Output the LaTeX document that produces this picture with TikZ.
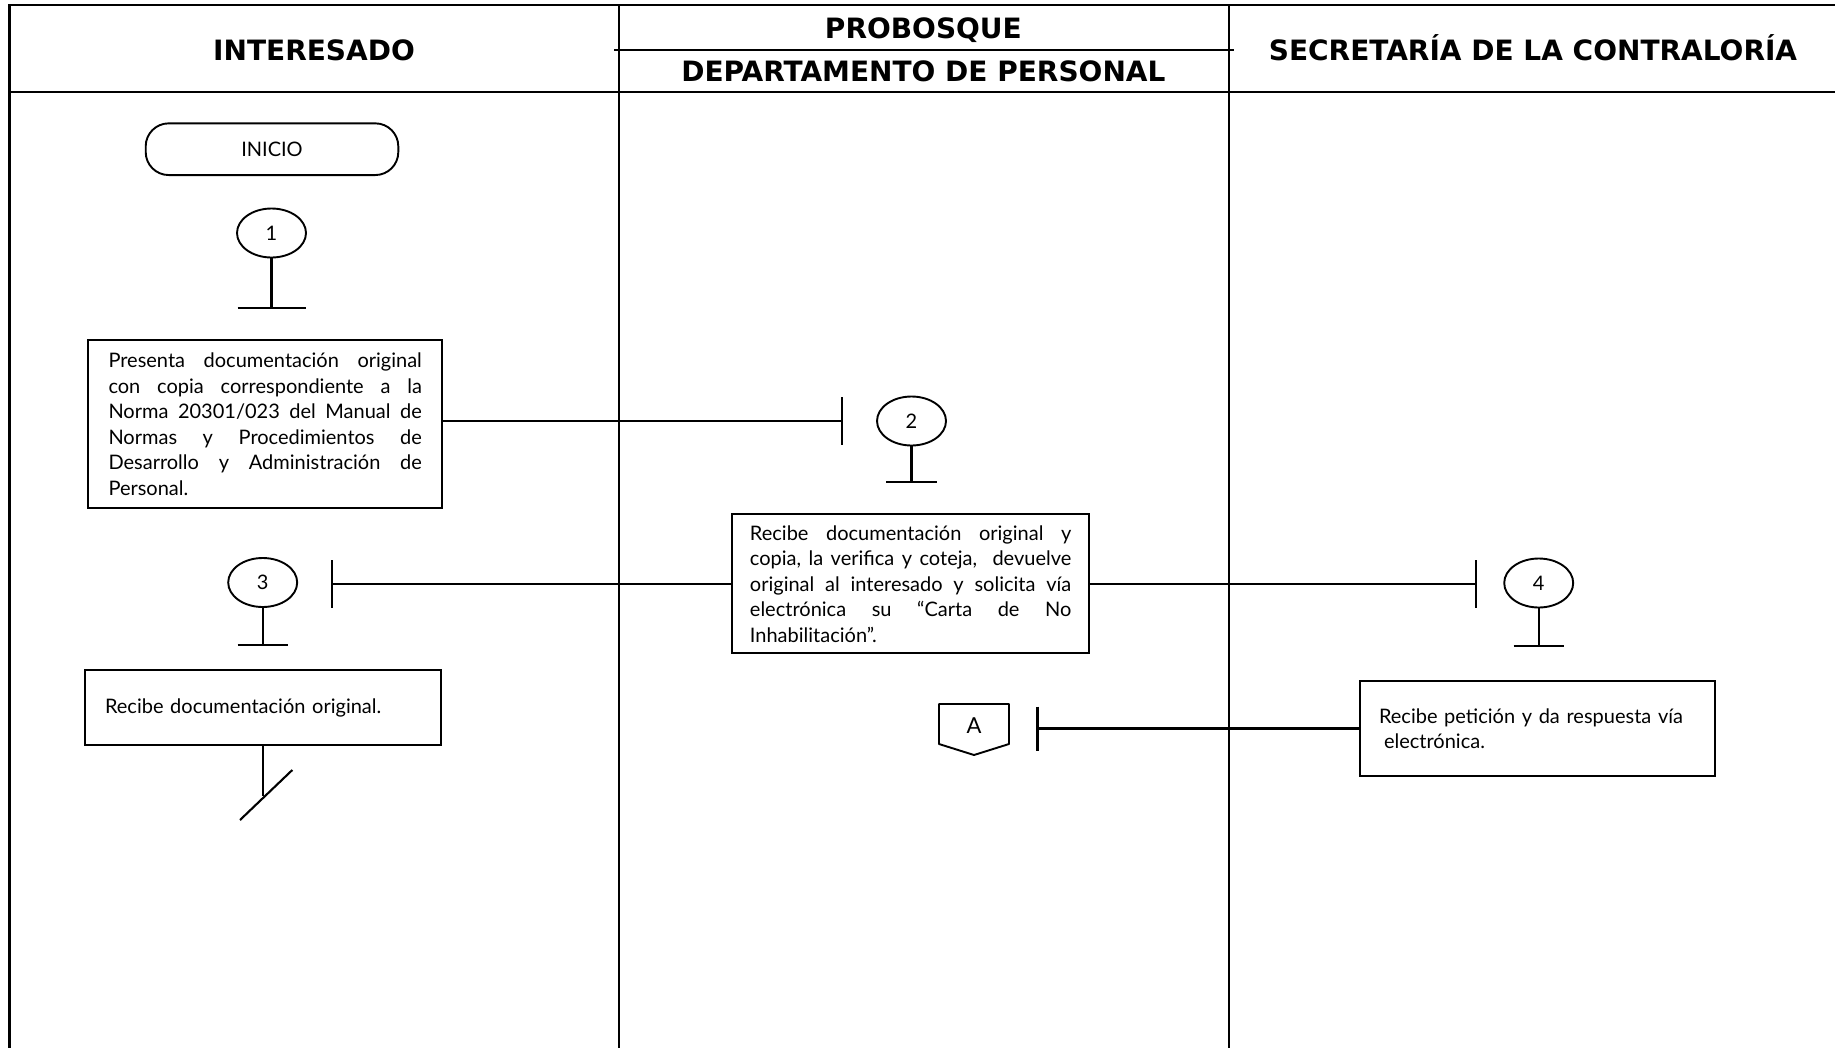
\documentclass[tikz,border=0pt]{standalone}
\usepackage{fontspec}
\setmainfont{Lato}
\newfontfamily\hdrfont{DejaVu Sans}
\usetikzlibrary{shapes.geometric}
\newcommand{\jl}[2]{\leavevmode\hbox to #1{#2}}
\newcommand{\bodyfont}{\fontsize{20}{25.5}\selectfont}
\tikzset{
  lane/.style={line width=2.3pt},
  conn/.style={line width=2.1pt},
  hdr/.style={font=\hdrfont\bfseries\fontsize{28}{30}\selectfont, inner sep=0pt, text height=20pt, text depth=0pt},
  procbox/.style={draw, line width=2.1pt, inner ysep=0pt, align=left, font=\bodyfont},
  conncirc/.style={draw, ellipse, line width=1.9pt, minimum width=69pt, minimum height=49pt, inner sep=0pt, font=\bodyfont},
  startbox/.style={draw, line width=1.9pt, rounded corners=23pt, minimum width=252.6pt, minimum height=51.7pt, inner sep=0pt, font=\bodyfont},
}
\begin{document}
\begin{tikzpicture}[x=1pt,y=-1pt]
\useasboundingbox (0,0) rectangle (1835,1047);
% frame and lanes
\draw[lane] (9.5,1050) -- (9.5,5) -- (1840,5);
\draw[lane] (9.5,92) -- (1840,92);
\draw[lane] (619.3,5) -- (619.3,1050);
\draw[lane] (1229,5) -- (1229,1050);
\draw[lane] (614,50) -- (1234,50);
% headers
\node[hdr] (hInt) at (314,50.3) {INTERESADO};
\node[hdr] (hProb) at (923.4,28) {PROBOSQUE};
\node[hdr] (hDep) at (923.4,71.4) {DEPARTAMENTO DE PERSONAL};
\node[hdr] (hSec) at (1533,50.3) {SECRETARÍA DE LA CONTRALORÍA};
% INICIO
\node[startbox] (inicio) at (272,149.2) {INICIO};
% connector 1
\node[conncirc] (e1) at (271.5,233) {1};
\coordinate (b1) at (271.5,308.3);
\draw[conn] (e1.south) -- (b1);
\draw[conn] ([xshift=-34pt]b1) -- ([xshift=34pt]b1);
% box 1
\node[procbox, text width=313.4pt, inner xsep=20.45pt, minimum height=168pt] (box1) at (265.2,424)
 {\jl{313.4pt}{Presenta\hfill documentación\hfill original}\\
  \jl{313.4pt}{con\hfill copia\hfill correspondiente\hfill a\hfill la}\\
  \jl{313.4pt}{Norma\hfill 20301/023\hfill del\hfill Manual\hfill de}\\
  \jl{313.4pt}{Normas\hfill y\hfill Procedimientos\hfill de}\\
  \jl{313.4pt}{Desarrollo\hfill y\hfill Administración\hfill de}\\
  Personal.};
\coordinate (t2) at (841.7,421);
\draw[conn] (box1.east |- t2) -- (t2);
\draw[conn] ([yshift=24pt]t2) -- ([yshift=-24pt]t2);
% connector 2
\node[conncirc] (e2) at (911.5,421) {2};
\coordinate (b2) at (911.5,481.7);
\draw[conn] (e2.south) -- (b2);
\draw[conn] ([xshift=-25.5pt]b2) -- ([xshift=25.5pt]b2);
% box 2
\node[procbox, text width=321.4pt, inner xsep=17.65pt, minimum height=139pt] (box2) at (910.65,583.8)
 {\jl{321.4pt}{Recibe\hfill documentación\hfill original\hfill y}\\
  \jl{321.4pt}{copia,\hfill la\hfill verifica\hfill y\hfill coteja,\hspace{8pt}\hfill devuelve}\\
  \jl{321.4pt}{original\hfill al\hfill interesado\hfill y\hfill solicita\hfill vía}\\
  \jl{321.4pt}{electrónica\hfill su\hfill “Carta\hfill de\hfill No}\\
  Inhabilitación”.};
% to 3
\coordinate (t3) at (331.7,584);
\draw[conn] (box2.west |- t3) -- (t3);
\draw[conn] ([yshift=24pt]t3) -- ([yshift=-24pt]t3);
\node[conncirc] (e3) at (262.7,582.5) {3};
\coordinate (b3) at (262.7,645);
\draw[conn] (e3.south) -- (b3);
\draw[conn] ([xshift=-25pt]b3) -- ([xshift=25pt]b3);
% to 4
\coordinate (t4) at (1476,584);
\draw[conn] (box2.east |- t4) -- (t4);
\draw[conn] ([yshift=24pt]t4) -- ([yshift=-24pt]t4);
\node[conncirc] (e4) at (1538.7,583) {4};
\coordinate (b4) at (1538.7,646);
\draw[conn] (e4.south) -- (b4);
\draw[conn] ([xshift=-25pt]b4) -- ([xshift=25pt]b4);
% box 3
\node[procbox, text width=315.7pt, inner xsep=20pt, minimum height=75pt] (box3) at (262.85,707.5)
 {Recibe documentación original.};
\coordinate (s3) at (262.85,796);
\draw[conn] (box3.south) -- (s3);
\coordinate (sl1) at (240,820);
\coordinate (sl2) at (292.3,770);
\draw[conn] (sl1) -- (sl2);
% box 4
\node[procbox, text width=317pt, inner xsep=19pt, minimum height=95pt] (box4) at (1537.5,728.5)
 {Recibe petición y da respuesta vía\\
  \hspace*{5pt}electrónica.};
\coordinate (tA) at (1037.5,728.5);
\draw[conn] (box4.west) -- (tA);
\draw[conn] ([yshift=22pt]tA) -- ([yshift=-22pt]tA);
% off-page connector A
\draw[line width=1.9pt, line join=round] (939,704) -- (1009,704) -- (1009,744) -- (974,755) -- (939,744) -- cycle;
\node[font=\fontsize{22}{24}\selectfont, inner sep=0pt] (offA) at (974,726) {A};
\end{tikzpicture}
\end{document}
